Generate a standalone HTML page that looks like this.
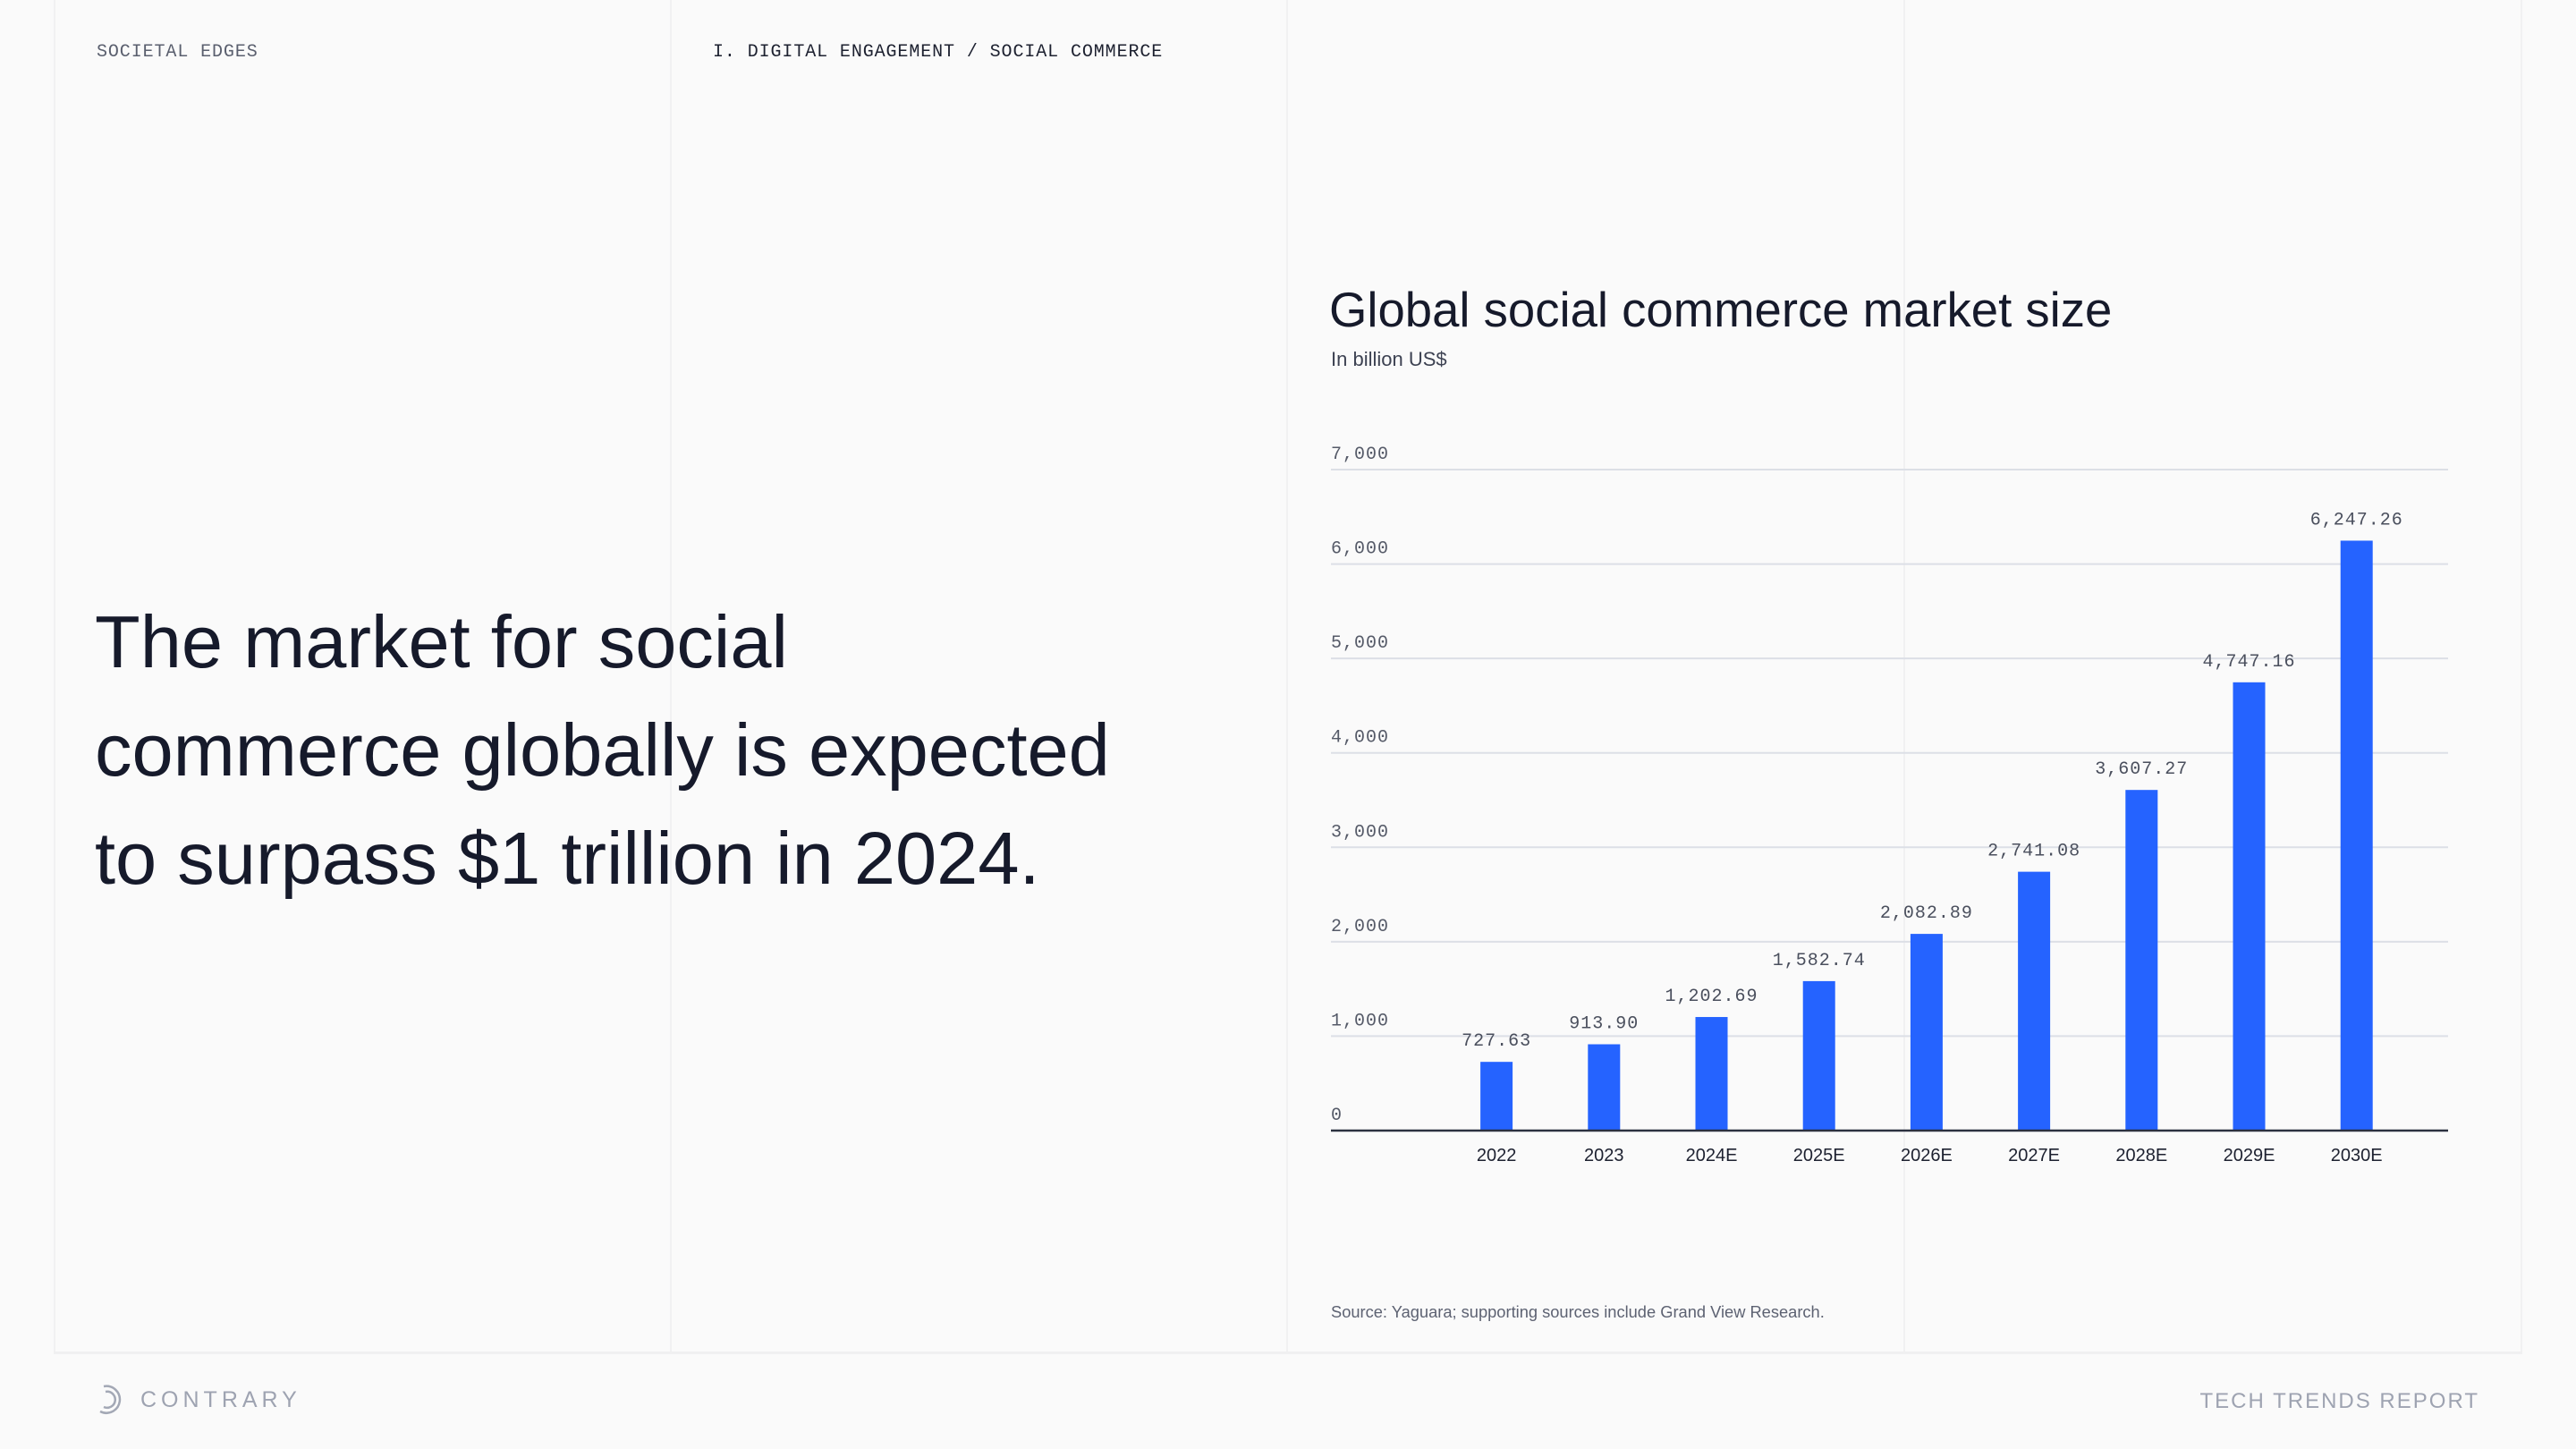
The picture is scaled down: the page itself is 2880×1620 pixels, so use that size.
<!DOCTYPE html>
<html><head><meta charset="utf-8"><style>
html,body{margin:0;padding:0}
body{width:2880px;height:1620px;background:#fafafa;position:relative;overflow:hidden;font-family:"Liberation Sans",sans-serif;color:#161a2b}
.vl{position:absolute;top:0;height:1512px;width:2px;background:#f1f1f2}
.mono{font-family:"Liberation Mono",monospace}
.abs{position:absolute;white-space:nowrap}
</style></head><body>
<div class="vl" style="left:60px"></div>
<div class="vl" style="left:749px"></div>
<div class="vl" style="left:1438px"></div>
<div class="vl" style="left:2128px"></div>
<div class="vl" style="left:2818px"></div>
<div class="abs" style="left:60px;top:1511px;width:2760px;height:3px;background:#f0f0f1"></div>

<div class="abs mono" style="left:108px;top:47px;font-size:20px;color:#5a5f6e;letter-spacing:0.9px">SOCIETAL EDGES</div>
<div class="abs mono" style="left:797px;top:47px;font-size:20px;color:#1d2130;letter-spacing:0.9px">I. DIGITAL ENGAGEMENT / SOCIAL COMMERCE</div>

<div class="abs" style="left:106px;top:657px;font-size:83px;line-height:121px;white-space:normal;width:1400px;color:#161a2b">The market for social<br>commerce globally is expected<br>to surpass $1 trillion in 2024.</div>

<div class="abs" style="left:1486px;top:315px;font-size:54.5px;color:#161a2b">Global social commerce market size</div>
<div class="abs" style="left:1488px;top:389px;font-size:22px;color:#3d4252">In billion US$</div>

<svg class="abs" style="left:0;top:0" width="2880" height="1620" id="chart"></svg>

<div class="abs" style="left:1488px;top:1456px;font-size:18.3px;color:#5d6272">Source: Yaguara; supporting sources include Grand View Research.</div>

<svg class="abs" style="left:106px;top:1546px" width="36" height="38" viewBox="0 0 36 38">
<path d="M10 4 A15 15 0 1 1 6 32" fill="none" stroke="#a3a8b5" stroke-width="2.5"/>
<path d="M12 10 A9 9 0 1 1 10 27" fill="none" stroke="#a3a8b5" stroke-width="2.5"/>
</svg>
<div class="abs" style="left:157px;top:1551px;font-size:25px;letter-spacing:5px;color:#9ea3b1">CONTRARY</div>
<div class="abs" style="right:108px;top:1553px;font-size:24px;letter-spacing:2px;color:#9ea3b1">TECH TRENDS REPORT</div>

<script>
const categories = ["2022","2023","2024E","2025E","2026E","2027E","2028E","2029E","2030E"];
const values = [727.63,913.90,1202.69,1582.74,2082.89,2741.08,3607.27,4747.16,6247.26];
const valueLabels = ["727.63","913.90","1,202.69","1,582.74","2,082.89","2,741.08","3,607.27","4,747.16","6,247.26"];
const yTicks = [0,1000,2000,3000,4000,5000,6000,7000];
const yTickLabels = ["0","1,000","2,000","3,000","4,000","5,000","6,000","7,000"];

const svg = document.getElementById('chart');
const NS = 'http://www.w3.org/2000/svg';
const left = 1488, right = 2737, y0 = 1264, yTop = 525, yMax = 7000;
const step = 120.2, offset = 1.54, barW = 36;
function yScale(v){ return y0 - (v / yMax) * (y0 - yTop); }
function xScale(i){ return left + (i + offset) * step; }
function mk(tag, attrs){ const e = document.createElementNS(NS, tag); for (const k in attrs) e.setAttribute(k, attrs[k]); svg.appendChild(e); return e; }

yTicks.forEach((t, i) => {
  const y = yScale(t);
  if (t !== 0) {
    const l = mk('line', {x1:left, x2:right, y1:y, y2:y, stroke:'#dcdfe6', 'stroke-width':2});
    
    
  }
  const tx = mk('text', {x:left, y:y - 12, 'font-family':'Liberation Mono, monospace', 'font-size':20, 'letter-spacing':1, fill:'#555a68'});
  tx.textContent = yTickLabels[i];
  
  
});

categories.forEach((c, i) => {
  const cx = xScale(i), top = yScale(values[i]);
  const r = mk('rect', {x:cx - barW/2, y:top, width:barW, height:y0 - top, fill:'#2563ff'});
  
  
  const v = mk('text', {x:cx, y:top - 18, 'text-anchor':'middle', 'font-family':'Liberation Mono, monospace', 'font-size':20, 'letter-spacing':1, fill:'#4a4f5d'});
  v.textContent = valueLabels[i];
  
  
  const xl = mk('text', {x:cx, y:y0 + 34, 'text-anchor':'middle', 'font-family':'Liberation Sans, sans-serif', 'font-size':20, fill:'#1d2130'});
  xl.textContent = c;
  
  
});

const ax = mk('line', {x1:left, x2:right, y1:y0, y2:y0, stroke:'#2c3140', 'stroke-width':2.5});


</script>
</body></html>
